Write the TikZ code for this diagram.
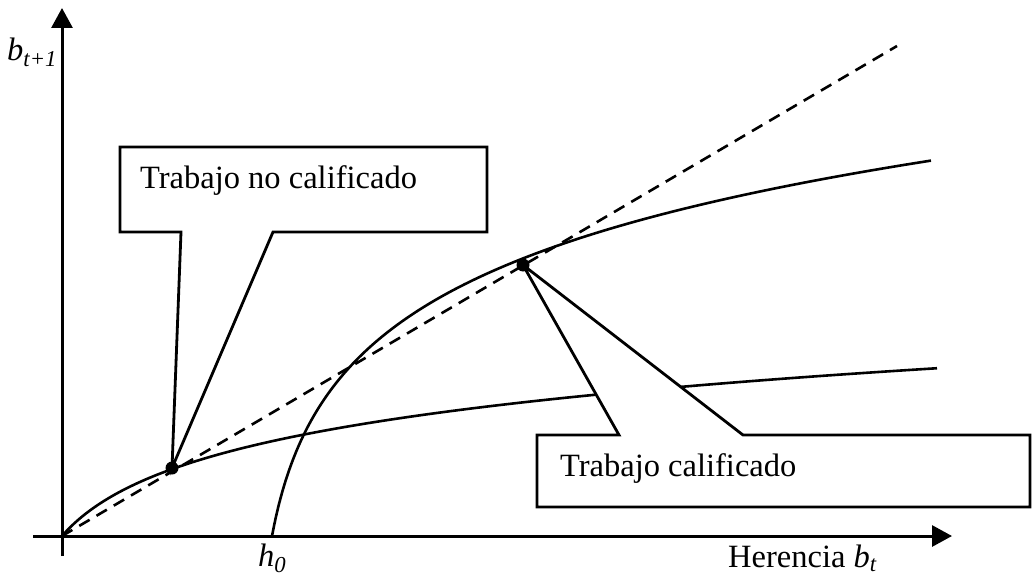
\documentclass[tikz,border=0pt]{standalone}
\usepackage{fontspec}
\setmainfont{Liberation Serif}
\usetikzlibrary{arrows.meta}
\begin{document}
\begin{tikzpicture}[x=1pt,y=-1pt,
  axis/.style={line width=3pt,-{Triangle[length=20pt,width=21pt]}},
  curve/.style={line width=2.6pt},
  guide/.style={line width=2.6pt,dash pattern=on 12pt off 8pt},
  callout/.style={line width=2.8pt,line join=miter,fill=white},
  lbl/.style={inner sep=0pt,anchor=base west,font=\fontsize{32.5}{38}\selectfont},
  dot/.style={circle,fill=black,inner sep=0pt,minimum size=13pt}]
\useasboundingbox (0,0) rectangle (1033,578);
% named points
\coordinate (O) at (62,536);
\coordinate (xs) at (33,536);
\coordinate (xe) at (952,536);
\coordinate (ys) at (62,556);
\coordinate (ye) at (62,8);
\coordinate (de) at (897,46);
\coordinate (p1) at (172,468);
\coordinate (p2) at (523,265);
% axes
\draw[axis] (xs) -- (xe);
\draw[axis] (ys) -- (ye);
% 45-degree line
\draw[guide] (O) -- (de);
% unskilled curve
\draw[curve] plot[domain=0:875,samples=150,smooth] ({62+\x},{536-57.5*ln(1+\x/50)});
% skilled curve
\draw[curve] plot[domain=0:659,samples=200,smooth] ({272+\x},{536-106.5*ln(1+\x/20)});
% callouts
\draw[callout] (120,147) -- (487,147) -- (487,232) -- (273,232) -- (p1) -- (181,232) -- (120,232) -- cycle;
\draw[callout] (537,435) -- (619,435) -- (p2) -- (743,435) -- (1030,435) -- (1030,507) -- (537,507) -- cycle;
% dots
\node[dot] (d1) at (p1) {};
\node[dot] (d2) at (p2) {};
% labels
\node[lbl] (tnc) at (140,188) {Trabajo no calificado};
\node[lbl] (tc) at (560,476) {Trabajo calificado};
\node[lbl] (xl) at (728,567) {Herencia \textit{b}\textsubscript{\textit{t}}};
\node[lbl] (h0) at (258,566) {\textit{h}\textsubscript{\textit{0}}};
\node[lbl] (yl) at (7,60) {\textit{b}\textsubscript{\textit{t+1}}};
\end{tikzpicture}
\end{document}
